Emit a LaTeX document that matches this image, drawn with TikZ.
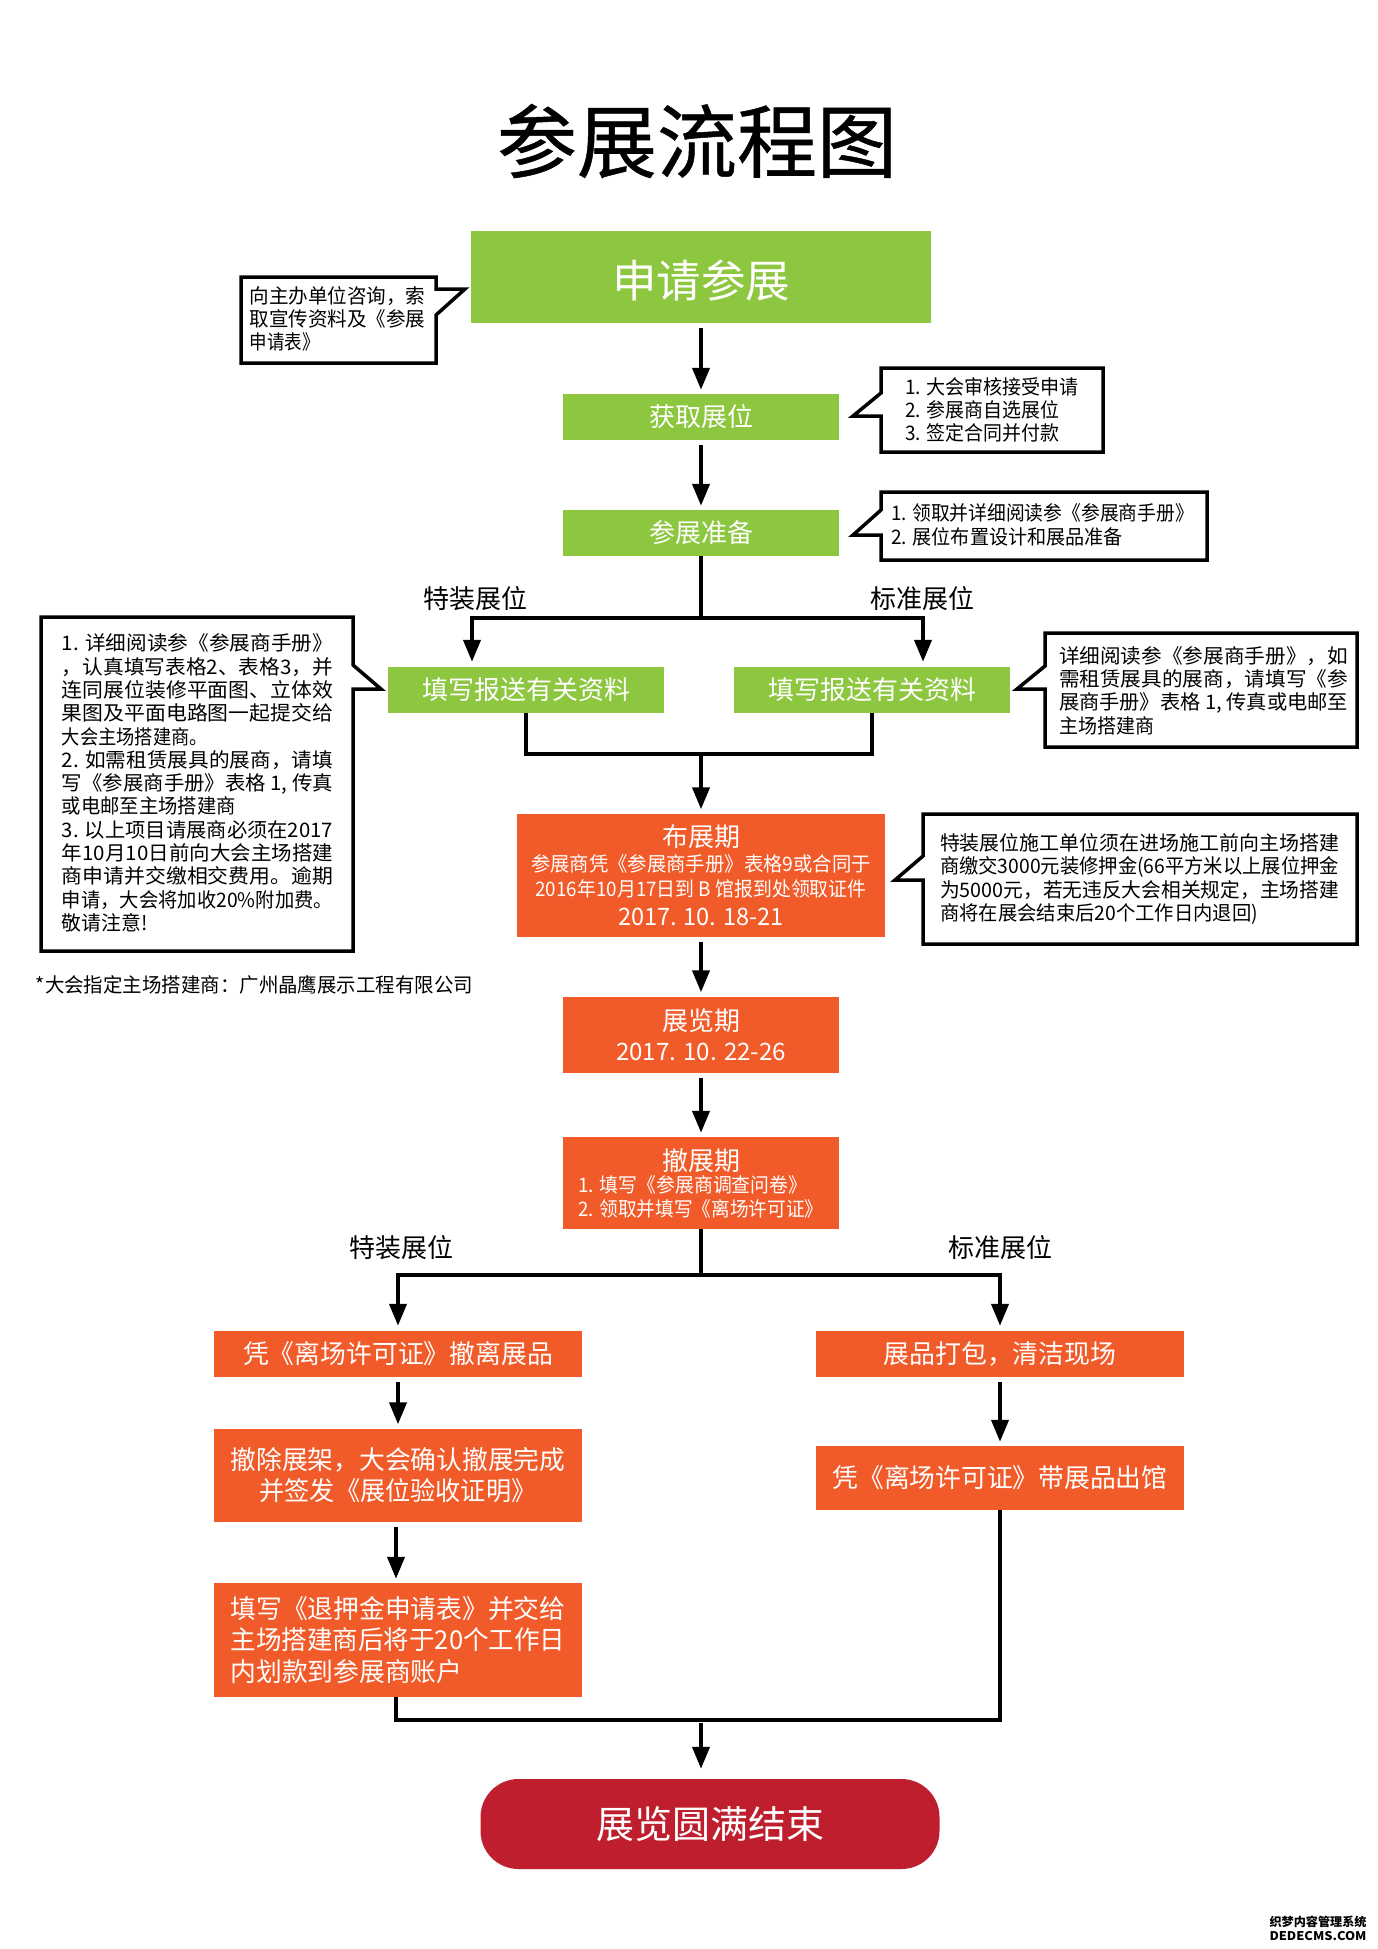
\documentclass[tikz,border=0pt]{standalone}
\usepackage{fontspec}
\setmainfont{Noto Sans CJK SC}
\newfontfamily\titlefont[FakeBold=0.6]{Noto Sans CJK SC}
\usetikzlibrary{arrows.meta}
\definecolor{gfill}{HTML}{8DC63F}
\definecolor{ofill}{HTML}{F15A29}
\definecolor{rfill}{HTML}{BE1E2D}
\newcommand{\fl}[2]{\resizebox{#1pt}{\height}{#2}}
\newcommand{\fsz}[2]{\fontsize{#1pt}{#2pt}\selectfont}
\newcommand{\fwc}{^^^^ff0c}
\newcommand{\fwk}{^^^^ff1a}
\tikzset{
  x=1pt,y=-1pt,
  gbox/.style={fill=gfill,text=white,inner sep=0pt,align=center,font=\fsz{26}{30}},
  obox/.style={fill=ofill,text=white,inner sep=0pt,align=center,font=\fsz{26}{31.5}},
  note/.style={draw=black,line width=3.5pt,fill=white,miter limit=8},
  notetext/.style={inner sep=0pt,align=left,font=\fsz{20}{23.3},text=black},
  lab/.style={inner sep=0pt,font=\fsz{26}{30},text=black},
  flow/.style={line width=4pt,draw=black},
  arr/.style={flow,-{Triangle[length=22pt,width=17pt]}},
  gapped/.style={shorten <=5pt,shorten >=4pt},
}
\begin{document}
\begin{tikzpicture}
\useasboundingbox (0,0) rectangle (1378,1949);
\fill[white] (0,0) rectangle (1378,1949);
% title
\node[inner sep=0pt,font=\titlefont\fsz{80}{84}] (title) at (697,141) {参展流程图};
% green boxes
\node[gbox,minimum width=460pt,minimum height=92pt,font=\fsz{44.5}{48}] (apply) at (701,277) {\raisebox{-20.5pt}[0pt][0pt]{申请参展}};
\node[gbox,minimum width=276pt,minimum height=46pt] (booth) at (701,417) {获取展位};
\node[gbox,minimum width=276pt,minimum height=46pt] (prep) at (701,533) {参展准备};
\node[gbox,minimum width=276pt,minimum height=46pt] (fillL) at (526,690) {填写报送有关资料};
\node[gbox,minimum width=276pt,minimum height=46pt] (fillR) at (872,690) {填写报送有关资料};
% orange boxes
\node[obox,minimum width=368pt,minimum height=123pt] (setup) at (701,875) {布展期\\[-7pt]
  {\fsz{20}{25}\fl{340}{参展商凭《参展商手册》表格9或合同于}}\\[-6pt]
  {\fsz{20}{25}\fl{331}{2016年10月17日到 B 馆报到处领取证件}}\\[-3pt]
  {\fsz{24}{28}\fl{166}{2017. 10. 18-21}}};
\node[obox,minimum width=276pt,minimum height=76pt] (show) at (701,1034.5) {展览期\\[-2pt]
  {\fsz{24}{28}\fl{170}{2017. 10. 22-26}}};
\node[obox,minimum width=276pt,minimum height=92pt] (teardown) at (701,1183) {撤展期\\[-9pt]
  {\fsz{20}{23}\makebox[245pt][l]{\fl{229}{1. 填写《参展商调查问卷》}}}\\[-8pt]
  {\fsz{20}{23}\makebox[245pt][l]{\fl{245}{2. 领取并填写《离场许可证》}}}};
\node[obox,minimum width=368pt,minimum height=46pt] (leaveL) at (398,1354) {\fl{310}{凭《离场许可证》撤离展品}};
\node[obox,minimum width=368pt,minimum height=46pt] (packR) at (1000,1354) {\fl{233}{展品打包\fwc 清洁现场}};
\node[obox,minimum width=368pt,minimum height=93pt] (remove) at (398,1475) {\fl{335}{撤除展架\fwc 大会确认撤展完成}\\ \fl{277}{并签发《展位验收证明》}};
\node[obox,minimum width=368pt,minimum height=64pt] (exitR) at (1000,1478) {\fl{335}{凭《离场许可证》带展品出馆}};
\node[obox,minimum width=368pt,minimum height=114pt] (refund) at (398,1640) {\makebox[335pt][l]{\fl{335}{填写《退押金申请表》并交给}}\\ \makebox[335pt][l]{\fl{335}{主场搭建商后将于20个工作日}}\\ \makebox[335pt][l]{\fl{232}{内划款到参展商账户}}};
\node[fill=rfill,text=white,rounded corners=38pt,inner sep=0pt,minimum width=459pt,minimum height=90pt,font=\fsz{38}{42}] (finish) at (710,1824) {展览圆满结束};
% branch labels
\node[lab] (l1) at (475,599) {特装展位};
\node[lab] (l2) at (922,599) {标准展位};
\node[lab] (l3) at (401,1248) {特装展位};
\node[lab] (l4) at (1000,1248) {标准展位};
% callouts
\draw[note] (241,277) -- (436,277) -- (436,289) -- (465,289) -- (436,315) -- (436,363) -- (241,363) -- cycle;
\node[notetext] (n1) at (337.5,319) {\fl{176}{向主办单位咨询\fwc 索}\\ \fl{176}{取宣传资料及《参展}\\ \fl{70}{申请表》}};
\draw[note] (881,368) -- (1103,368) -- (1103,452) -- (881,452) -- (881,416) -- (853,416) -- (881,393) -- cycle;
\node[notetext] (n2) at (992,410) {\fl{174}{1. 大会审核接受申请}\\ \fl{154}{2. 参展商自选展位}\\ \fl{154}{3. 签定合同并付款}};
\draw[note] (881,492) -- (1207,492) -- (1207,560) -- (881,560) -- (881,535) -- (853,535) -- (881,510) -- cycle;
\node[notetext] (n3) at (1042.5,525) {\fl{303}{1. 领取并详细阅读参《参展商手册》}\\ \fl{232}{2. 展位布置设计和展品准备}};
\draw[note] (41,617) -- (353,617) -- (353,665) -- (381,689) -- (353,689) -- (353,951) -- (41,951) -- cycle;
\node[notetext] (n4) at (197.5,783) {\fl{271}{1. 详细阅读参《参展商手册》}\\ \fl{271}{\fwc 认真填写表格2、表格3\fwc 并}\\ \fl{271}{连同展位装修平面图、立体效}\\ \fl{271}{果图及平面电路图一起提交给}\\ \fl{146}{大会主场搭建商。}\\ \fl{271}{2. 如需租赁展具的展商\fwc 请填}\\ \fl{271}{写《参展商手册》表格 1, 传真}\\ \fl{174}{或电邮至主场搭建商}\\ \fl{271}{3. 以上项目请展商必须在2017}\\ \fl{271}{年10月10日前向大会主场搭建}\\ \fl{271}{商申请并交缴相交费用。逾期}\\ \fl{271}{申请\fwc 大会将加收20\%附加费。}\\ \fl{86}{敬请注意!}};
\draw[note] (1045,633) -- (1357,633) -- (1357,747) -- (1045,747) -- (1045,689) -- (1017,689) -- (1045,666) -- cycle;
\node[notetext] (n5) at (1203.5,690.5) {\fl{289}{详细阅读参《参展商手册》\fwc 如}\\ \fl{289}{需租赁展具的展商\fwc 请填写《参}\\ \fl{289}{展商手册》表格 1, 传真或电邮至}\\ \fl{95}{主场搭建商}};
\draw[note] (923,814) -- (1357,814) -- (1357,944) -- (923,944) -- (923,880) -- (895,880) -- (923,856) -- cycle;
\node[notetext] (n6) at (1139.5,879) {\fl{399}{特装展位施工单位须在进场施工前向主场搭建}\\ \fl{399}{商缴交3000元装修押金(66平方米以上展位押金}\\ \fl{399}{为5000元\fwc 若无违反大会相关规定\fwc 主场搭建}\\ \fl{318}{商将在展会结束后20个工作日内退回)}};
\node[inner sep=0pt,font=\fsz{20}{24}] (foot) at (254.5,985) {\fl{437}{*大会指定主场搭建商\fwk 广州晶鹰展示工程有限公司}};
% watermark
\node[inner sep=0pt,font=\bfseries\fsz{12}{14},align=center,text=black] (wm) at (1318,1928) {\fl{97}{织梦内容管理系统}\\ \fl{97}{DEDECMS.COM}};
% connectors
\coordinate (splitA) at (701,618);
\coordinate (joinA) at (701,754);
\coordinate (splitB) at (701,1275);
\coordinate (joinB) at (701,1720);
\draw[arr,gapped] (apply.south) -- (booth.north);
\draw[arr,gapped] (booth.south) -- (prep.north);
\draw[flow] (prep.south) -- (splitA);
\draw[arr,shorten >=5pt] (splitA) -| ([xshift=-54pt]fillL.north);
\draw[arr,shorten >=5pt] (splitA) -| ([xshift=51pt]fillR.north);
\draw[flow] (fillL.south) |- (joinA) -| (fillR.south);
\draw[arr,shorten >=4pt] (joinA) -- (setup.north);
\draw[arr,gapped] (setup.south) -- (show.north);
\draw[arr,gapped] (show.south) -- (teardown.north);
\draw[flow] (teardown.south) -- (splitB);
\draw[arr,shorten >=5pt] (splitB) -| (leaveL.north);
\draw[arr,shorten >=5pt] (splitB) -| (packR.north);
\draw[arr,gapped] (leaveL.south) -- (remove.north);
\draw[arr,gapped] ([xshift=-2pt]remove.south) -- ([xshift=-2pt]refund.north);
\draw[arr,gapped] (packR.south) -- (exitR.north);
\draw[flow] ([xshift=-2pt]refund.south) |- (joinB) -| (exitR.south);
\draw[arr,shorten <=3pt,shorten >=10pt] (joinB) -- (joinB |- finish.north);
\end{tikzpicture}
\end{document}
